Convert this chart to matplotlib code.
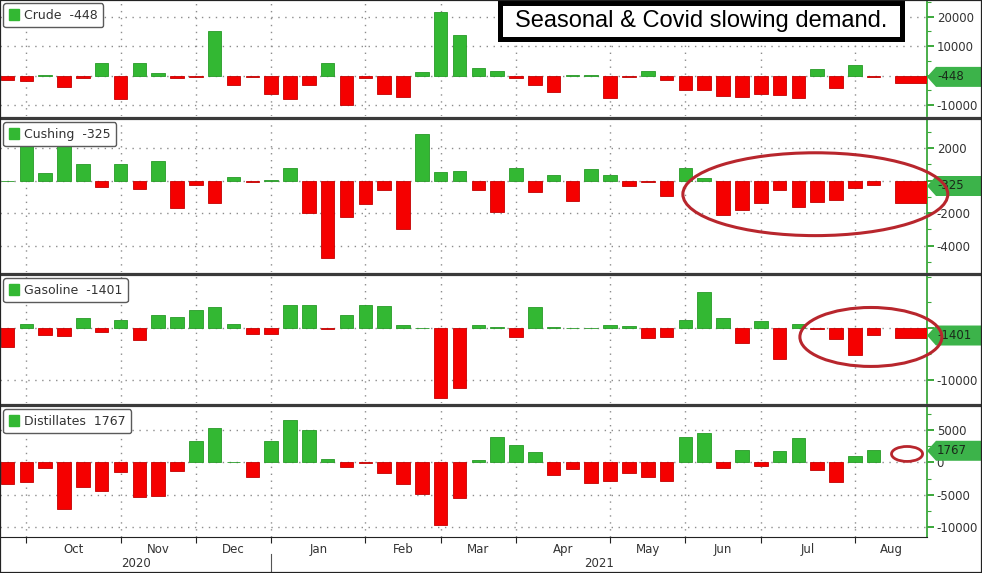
import numpy as np
import pandas as pd
import matplotlib
matplotlib.use("Agg")
import matplotlib.pyplot as plt
from matplotlib.patches import Patch, Rectangle, Polygon, Ellipse
from matplotlib.transforms import blended_transform_factory

plt.rcParams["font.family"] = ["DejaVu Sans"]
plt.rcParams["axes.unicode_minus"] = False

# ---- DATA (weekly change, thousand barrels) ----
weeks = pd.date_range("2020-09-25", periods=48, freq="W-FRI")

crude = [-1400, -1900, 200, -3900, -900, 4400, -8000, 4100, 800, -900, -500, 15000,
         -3100, -600, -6100, -8000, -3100, 4400, -10000, -800, -6400, -7200, 1100, 21400,
         13800, 2400, 1700, -700, -3200, -5400, 300, 200, -7700, -500, 1500, -1400,
         -4900, -4900, -6900, -7100, -6300, -6600, -7700, 2300, -4100, 3700, -600, -2500]
cushing = [0, 2300, 500, 2300, 1000, -400, 1000, -480, 1240, -1700, -290, -1350,
           230, -50, 30, 800, -1970, -4750, -2260, -1450, -600, -3000, 2860, 520,
           580, -600, -1900, 790, -700, 370, -1240, 750, 330, -350, -80, -970,
           790, 170, -2110, -1820, -1390, -560, -1600, -1330, -1200, -460, -290, -1390]
gasoline = [-3700, 800, -1350, -1550, 1900, -700, 1550, -2300, 2500, 2100, 3500, 4200,
            900, -1150, -1150, 4450, 4450, -100, 2500, 4450, 4250, 700, 100, -13400,
            -11600, 600, 200, -1700, 4050, 300, 100, 100, 700, 400, -1900, -1700,
            1550, 7000, 1900, -2850, 1500, -5900, 900, -100, -2050, -5150, -1350, -1800]
distillates = [-3350, -3000, -900, -7200, -3750, -4400, -1500, -5300, -5200, -1300, 3300, 5200,
               100, -2250, 3300, 6450, 5000, 450, -750, -100, -1650, -3400, -4900, -9600,
               -5500, 300, 3850, 2600, 1550, -1950, -1000, -3200, -2900, -1650, -2200, -2900,
               3850, 4450, -900, 1900, -650, 1700, 3700, -1200, -3100, 1000, 1900, np.nan]

names = ["Crude", "Cushing", "Gasoline", "Distillates"]
latest = [-448, -325, -1401, 1767]
note = "Seasonal & Covid slowing demand."

# ---- LAYOUT ----
W, H = 982, 573
GREEN = "#33b833"
RED = "#f50000"
TAG = "#3cb34a"
AXIS_GREEN = "#3aa83a"
TXT = "#333333"

def fx(px):
    return px / W

def fy(py):
    return 1 - py / H

panel_px = [(0, 116), (119, 272), (275, 403), (406, 537)]
ylims = [(-13700, 25600), (-5620, 3800), (-14450, 10300), (-11500, 8660)]
majors = [[-10000, 0, 10000, 20000], [-4000, -2000, 0, 2000],
          [-10000, 0], [-10000, -5000, 0, 5000]]
minor_step = [5000, 1000, 5000, 2500]
x_right_px = 927

n = len(weeks)
x = np.arange(n)
xmin = -0.40
xmax = 48.83
month_idx = [i for i in range(1, n) if weeks[i].month != weeks[i - 1].month]

fig = plt.figure(figsize=(W / 100, H / 100), dpi=100)
series = [crude, cushing, gasoline, distillates]
axes = []

for k, (vals, name, last) in enumerate(zip(series, names, latest)):
    top, bot = panel_px[k]
    ax = fig.add_axes([0, fy(bot), fx(x_right_px), (bot - top) / H])
    axes.append(ax)
    v = np.array(vals, dtype=float)
    cols = [GREEN if val >= 0 else RED for val in v]
    edges = ["#279a27" if val >= 0 else "#c40000" for val in v]
    ax.bar(x[:-1], v[:-1], width=0.72, color=cols[:-1], edgecolor=edges[:-1],
           linewidth=0.6, zorder=3)
    if not np.isnan(v[-1]):
        left = x[-1] + 0.13
        ax.bar(left, v[-1], width=xmax - left, align="edge", color=cols[-1],
               edgecolor=edges[-1], linewidth=0.6, zorder=3)

    ax.set_xlim(xmin, xmax)
    ax.set_ylim(*ylims[k])
    ax.yaxis.tick_right()
    ax.set_yticks(majors[k])
    # the zero label sits under the value tag in the top three panels
    ax.set_yticklabels(["" if (t == 0 and k < 3) else str(t) for t in majors[k]])
    lo, hi = ylims[k]
    mn = np.arange(np.ceil(lo / minor_step[k]) * minor_step[k], hi, minor_step[k])
    ax.set_yticks(mn, minor=True)
    ax.tick_params(axis="y", which="major", colors=AXIS_GREEN, length=5, width=1.4,
                   labelcolor=TXT, labelsize=8.5, pad=2)
    ax.tick_params(axis="y", which="minor", colors=AXIS_GREEN, length=3, width=0.8)

    ax.set_xticks(month_idx)
    ax.grid(True, axis="both", which="major", linestyle=(0, (1, 4)), color="#8c8c8c",
            linewidth=1.0, zorder=0)
    for s in ["top", "left", "bottom"]:
        ax.spines[s].set_visible(False)
    ax.spines["right"].set_color(AXIS_GREEN)
    ax.spines["right"].set_linewidth(1.3)

    if k < 3:
        ax.tick_params(axis="x", length=0, labelbottom=False)
    else:
        ax.spines["bottom"].set_visible(True)
        ax.spines["bottom"].set_color("#222222")
        ax.tick_params(axis="x", which="major", length=4, color="#222222",
                       labelbottom=False)
        ends = month_idx + [xmax]
        mids = [(ends[i] + ends[i + 1]) / 2 for i in range(len(month_idx))]
        ax.set_xticks(mids, minor=True)
        ax.set_xticklabels([weeks[i].strftime("%b") for i in month_idx], minor=True)
        ax.tick_params(axis="x", which="minor", length=0, labelsize=8.5,
                       labelcolor=TXT, pad=4)
        jan = [i for i in month_idx if weeks[i].month == 1][0]
        tr = blended_transform_factory(ax.transData, ax.transAxes)
        ax.text((xmin + jan) / 2, -0.2, str(weeks[0].year), transform=tr,
                ha="center", va="center", fontsize=8.5, color=TXT)
        ax.text((jan + xmax) / 2, -0.2, str(weeks[jan].year), transform=tr,
                ha="center", va="center", fontsize=8.5, color=TXT)
        ax.plot([jan, jan], [-0.13, -0.29], transform=tr, color="#555555",
                linewidth=0.8, clip_on=False)

    leg = ax.legend(handles=[Patch(facecolor=GREEN, edgecolor=GREEN)],
                    labels=[f"{name}  {last}"], loc="upper left",
                    bbox_to_anchor=(0.0, 1.0), borderaxespad=0.25, fancybox=True,
                    framealpha=1, edgecolor="#5a5a5a", handlelength=0.8,
                    handleheight=0.9, handletextpad=0.4, fontsize=9.0,
                    borderpad=0.45, labelcolor=TXT)
    leg.get_frame().set_linewidth(1.0)
    leg.set_zorder(10)

    # value tag on right axis
    yp = top + (hi - last) / (hi - lo) * (bot - top)
    pts = [(x_right_px, yp), (x_right_px + 9, yp - 10), (W, yp - 10),
           (W, yp + 10), (x_right_px + 9, yp + 10)]
    fig.add_artist(Polygon([(fx(a), fy(b)) for a, b in pts], closed=True,
                           facecolor=TAG, edgecolor="none",
                           transform=fig.transFigure, zorder=2))
    fig.text(fx(x_right_px + 10), fy(yp), str(last), ha="left", va="center",
             fontsize=8.5, color="#1a2a1a", zorder=3)

# ---- ANNOTATIONS ----
ring = "#b8262d"
fig.add_artist(Ellipse((42.9, -830), 14.07, 5100, transform=axes[1].transData,
                       fill=False, edgecolor=ring, linewidth=2.2, zorder=4))
fig.add_artist(Ellipse((45.85, -1680), 7.54, 11400, transform=axes[2].transData,
                       fill=False, edgecolor=ring, linewidth=2.2, zorder=4))
fig.add_artist(Ellipse((47.77, 1280), 1.65, 2300, transform=axes[3].transData,
                       fill=False, edgecolor=ring, linewidth=2.0, zorder=4))

fig.add_artist(Rectangle((fx(499.5), fy(38.5)), fx(402.5), (38.5 - 2.5) / H,
                         facecolor="white", edgecolor="black", linewidth=3.6,
                         transform=fig.transFigure, zorder=5))
fig.text(fx(701), fy(21), note, ha="center", va="center", fontsize=17,
         family=["Liberation Sans", "DejaVu Sans"], color="black", zorder=6)

# panel separators and frame
for yy in [117.5, 273.5, 404.5]:
    fig.add_artist(plt.Line2D([0, 1], [fy(yy), fy(yy)], color="#3a3a3a",
                              linewidth=2.3, transform=fig.transFigure, zorder=6))
fig.add_artist(Rectangle((0, 0), 1, 1, fill=False, edgecolor="#222222", linewidth=1.6,
                         transform=fig.transFigure, zorder=7))

fig.savefig("out.png", dpi=100)
